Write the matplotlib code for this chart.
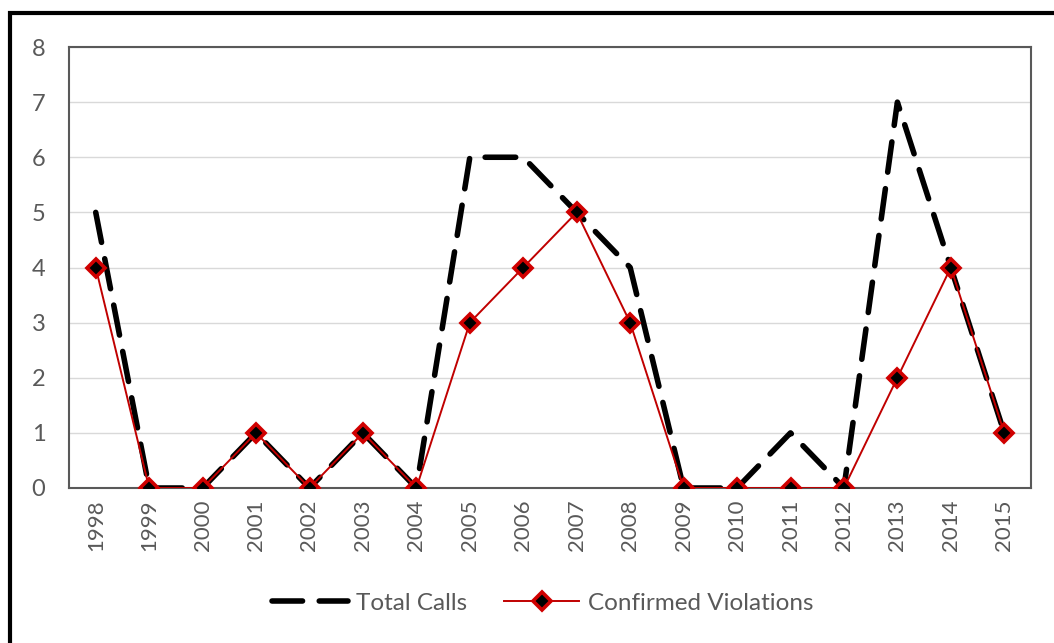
import matplotlib

matplotlib.use("Agg")
import matplotlib.pyplot as plt
from matplotlib.patches import Rectangle

years = ["1998", "1999", "2000", "2001", "2002", "2003", "2004", "2005", "2006",
         "2007", "2008", "2009", "2010", "2011", "2012", "2013", "2014", "2015"]
total_calls = [5, 0, 0, 1, 0, 1, 0, 6, 6, 5, 4, 0, 0, 1, 0, 7, 4, 1]
confirmed = [4, 0, 0, 1, 0, 1, 0, 3, 4, 5, 3, 0, 0, 0, 0, 2, 4, 1]

TXT = "#595959"
plt.rcParams["font.family"] = ["Lato", "DejaVu Sans"]

fig = plt.figure(figsize=(10.54, 6.43), dpi=100)
ax = fig.add_axes([69 / 1054, 1 - 488 / 643, (1031 - 69) / 1054, (488 - 47) / 643])

x = list(range(len(years)))
ax.plot(x, total_calls, color="black", linewidth=4, dashes=(5.5, 3),
        dash_capstyle="round", label="Total Calls", zorder=3)
ax.plot(x, confirmed, color="#C00000", linewidth=1.4, marker="D", markersize=9,
        markerfacecolor="black", markeredgecolor="#D00000", markeredgewidth=2.6,
        label="Confirmed Violations", zorder=4)

ax.set_xlim(-0.5, len(years) - 0.5)
ax.set_ylim(0, 8)
ax.set_xticks(x)
ax.set_xticklabels(years, rotation=90)
ax.set_yticks(range(9))
ax.tick_params(length=0, labelsize=16, labelcolor=TXT, pad=8)
ax.tick_params(axis="y", labelsize=17, pad=17)
ax.grid(axis="y", color="#d9d9d9", linewidth=1)
ax.set_axisbelow(True)
for spine in ax.spines.values():
    spine.set_color("#595959")
    spine.set_linewidth(1.5)

leg = fig.legend(loc="center", bbox_to_anchor=(0.515, 1 - 603 / 643), ncol=2,
                 frameon=False, fontsize=17.5, handlelength=3.1, columnspacing=1.5,
                 handletextpad=0.35)
for t in leg.get_texts():
    t.set_color(TXT)

# outer chart border
fig.patches.append(Rectangle((10 / 1054, -0.1), 1.2, 1 - 13 / 643 + 0.1,
                             transform=fig.transFigure, fill=False,
                             edgecolor="black", linewidth=3))

fig.savefig("out.png", dpi=100, facecolor="white")
